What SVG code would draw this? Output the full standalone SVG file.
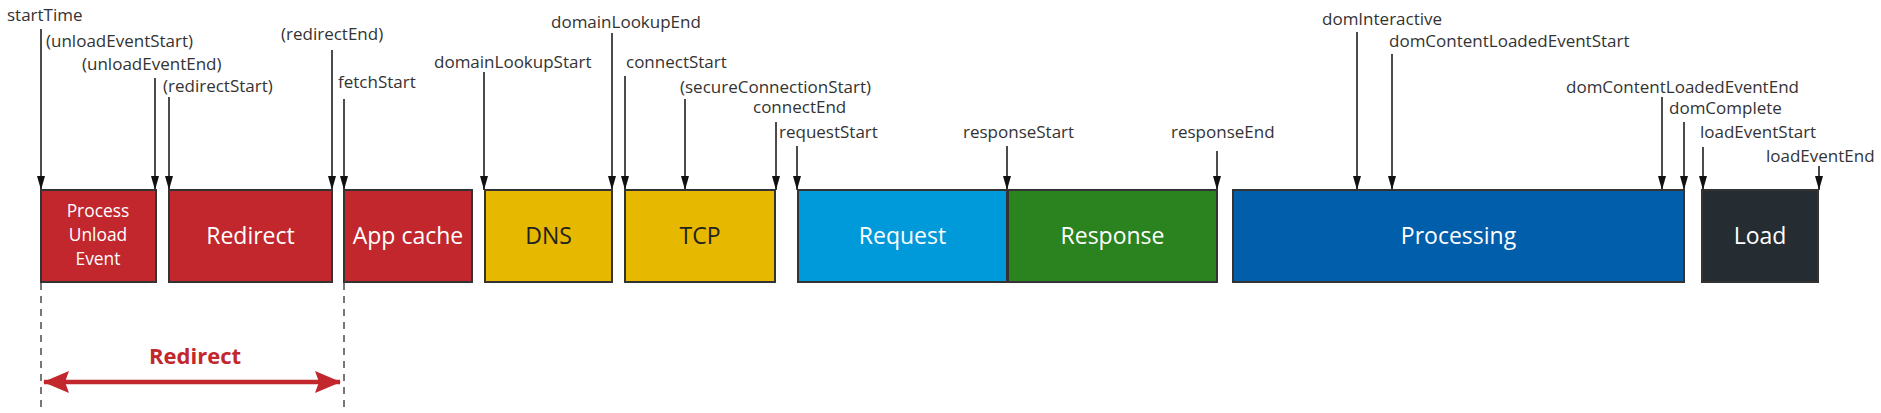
<svg xmlns="http://www.w3.org/2000/svg" width="1881" height="413" viewBox="0 0 1881 413">
<style>
.lbl{font-family:"Open Sans","Noto Sans","Liberation Sans",sans-serif;font-size:17px;fill:#333}
.box{stroke:#333;stroke-width:2}
.bt{font-family:"Open Sans","Noto Sans","Liberation Sans",sans-serif;font-size:23px;fill:#fff;text-anchor:middle}
.bts{font-family:"Open Sans","Noto Sans","Liberation Sans",sans-serif;font-size:17.4px;fill:#fff;text-anchor:middle}
.dark{fill:#222}
.arr{stroke:#111;stroke-width:1.5;fill:none;marker-end:url(#ah)}
.dash{stroke:#777;stroke-width:2;stroke-dasharray:7 6;fill:none}
</style>
<defs>
<marker id="ah" viewBox="0 0 14 8" refX="14" refY="4" markerWidth="14" markerHeight="8" markerUnits="userSpaceOnUse" orient="auto">
<path d="M0,0 L14,4 L0,8 z" fill="#111"/>
</marker>
<marker id="rh" viewBox="0 0 26 22" refX="25" refY="11" markerWidth="26" markerHeight="22" markerUnits="userSpaceOnUse" orient="auto-start-reverse">
<path d="M0,0 L26,11 L0,22 L4,11 z" fill="#c1272d"/>
</marker>
</defs>
<rect width="1881" height="413" fill="#fff"/>

<g id="labels">
<text class="lbl" x="7" y="21">startTime</text>
<text class="lbl" x="46" y="47">(unloadEventStart)</text>
<text class="lbl" x="82" y="70">(unloadEventEnd)</text>
<text class="lbl" x="163" y="92">(redirectStart)</text>
<text class="lbl" x="281" y="40">(redirectEnd)</text>
<text class="lbl" x="338" y="88">fetchStart</text>
<text class="lbl" x="434" y="68">domainLookupStart</text>
<text class="lbl" x="551" y="28">domainLookupEnd</text>
<text class="lbl" x="626" y="68">connectStart</text>
<text class="lbl" x="680" y="93">(secureConnectionStart)</text>
<text class="lbl" x="753" y="113">connectEnd</text>
<text class="lbl" x="779" y="138">requestStart</text>
<text class="lbl" x="963" y="138">responseStart</text>
<text class="lbl" x="1171" y="138">responseEnd</text>
<text class="lbl" x="1322" y="25">domInteractive</text>
<text class="lbl" x="1389" y="47">domContentLoadedEventStart</text>
<text class="lbl" x="1566" y="93">domContentLoadedEventEnd</text>
<text class="lbl" x="1669" y="114">domComplete</text>
<text class="lbl" x="1700" y="138">loadEventStart</text>
<text class="lbl" x="1766" y="162">loadEventEnd</text>
</g>

<g id="connectors">
<path class="arr" d="M41,29 V190"/>
<path class="arr" d="M155,78 V190"/>
<path class="arr" d="M169,97 V190"/>
<path class="arr" d="M332,50 V190"/>
<path class="arr" d="M344,99 V190"/>
<path class="arr" d="M484,72 V190"/>
<path class="arr" d="M612,33 V190"/>
<path class="arr" d="M625,76 V190"/>
<path class="arr" d="M685,99 V190"/>
<path class="arr" d="M776,122 V190"/>
<path class="arr" d="M797,146 V190"/>
<path class="arr" d="M1007,146 V190"/>
<path class="arr" d="M1217,151 V190"/>
<path class="arr" d="M1357,32 V190"/>
<path class="arr" d="M1392,54 V190"/>
<path class="arr" d="M1662,97 V190"/>
<path class="arr" d="M1684,122 V190"/>
<path class="arr" d="M1703,147 V190"/>
<path class="arr" d="M1819,166 V190"/>
<path class="dash" d="M41,283 V413"/>
<path class="dash" d="M344,283 V413"/>
<path d="M44,382 H340" stroke="#c1272d" stroke-width="4.5" fill="none" marker-start="url(#rh)" marker-end="url(#rh)"/>
</g>

<g id="unload"><rect class="box" x="41" y="190" width="115" height="92" fill="#c1272d"/>
<text class="bts" x="98" y="217">Process</text><text class="bts" x="98" y="241">Unload</text><text class="bts" x="98" y="265">Event</text></g>
<g id="redirect"><rect class="box" x="169" y="190" width="163" height="92" fill="#c1272d"/><text class="bt" x="250.5" y="244">Redirect</text></g>
<g id="appcache"><rect class="box" x="344" y="190" width="128" height="92" fill="#c1272d"/><text class="bt" x="408" y="244">App cache</text></g>
<g id="dns"><rect class="box" x="485" y="190" width="127" height="92" fill="#e6b800"/><text class="bt dark" x="548.5" y="244">DNS</text></g>
<g id="tcp"><rect class="box" x="625" y="190" width="150" height="92" fill="#e6b800"/><text class="bt dark" x="700" y="244">TCP</text></g>
<g id="request"><rect class="box" x="798" y="190" width="209" height="92" fill="#0099da"/><text class="bt" x="902.5" y="244">Request</text></g>
<g id="response"><rect class="box" x="1008" y="190" width="209" height="92" fill="#2a831f"/><text class="bt" x="1112.5" y="244">Response</text></g>
<g id="processing"><rect class="box" x="1233" y="190" width="451" height="92" fill="#005eab"/><text class="bt" x="1458.5" y="244">Processing</text></g>
<g id="load"><rect class="box" x="1702" y="190" width="116" height="92" fill="#252d33"/><text class="bt" x="1760" y="244">Load</text></g>

<g id="redirect-span"><text x="195" y="364" text-anchor="middle" font-family="Open Sans, Noto Sans, Liberation Sans, sans-serif" font-size="22" font-weight="bold" fill="#c1272d">Redirect</text></g>
</svg>
